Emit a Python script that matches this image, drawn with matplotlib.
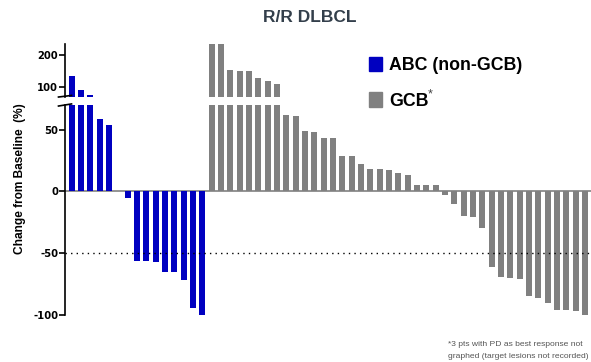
import matplotlib.pyplot as plt
from matplotlib.patches import Patch
import numpy as np

plt.rcParams["axes.unicode_minus"] = False

# values (% change from baseline)
abc_values = [133, 93, 75, 59, 54, 0, -5, -56, -56, -57, -65, -65, -72, -94, -100]
gcb_values = [240, 240, 152, 151, 149, 127, 118, 109, 62, 61, 49, 48, 43, 43,
              29, 29, 22, 18, 18, 17, 15, 13, 5, 5, 5, -3, -10, -20, -21, -30,
              -61, -69, -70, -71, -85, -86, -90, -96, -96, -97, -100, -100]
legend_labels = ["ABC (non-GCB)", "GCB"]
upper_ticks = [100, 200]
lower_ticks = [-100, -50, 0, 50]

blue = "#0000c0"
gray = "#808080"
tick_font = "DejaVu Sans"
txt_font = "Liberation Sans"

x_abc = np.arange(len(abc_values))
x_gcb = np.arange(len(gcb_values)) + len(abc_values)

fig = plt.figure(figsize=(5.91, 3.62), dpi=100)
ax_top = fig.add_axes([0.110, 0.732, 0.92, 0.146])
ax_bot = fig.add_axes([0.110, 0.130, 0.92, 0.580])

for ax in (ax_top, ax_bot):
    ax.bar(x_abc, abc_values, width=0.65, color=blue)
    ax.bar(x_gcb, gcb_values, width=0.65, color=gray)
    ax.set_xlim(-0.72, 57.55)
    for s in ["top", "right", "bottom"]:
        ax.spines[s].set_visible(False)
    ax.spines["left"].set_linewidth(1.2)
    ax.set_xticks([])
    ax.tick_params(axis="y", length=4, width=1.2, pad=1)

ax_top.set_ylim(70, 232)
ax_top.set_yticks(upper_ticks)
ax_bot.set_ylim(-100, 70)
ax_bot.set_yticks(lower_ticks)

for ax in (ax_top, ax_bot):
    for lab in ax.get_yticklabels():
        lab.set_fontfamily(tick_font)
        lab.set_fontweight("bold")
        lab.set_fontsize(7.2)

ax_bot.axhline(0, color=gray, lw=1.2, zorder=0)
ax_bot.axhline(-50, color="black", lw=1, linestyle=(0, (1, 3)), zorder=3)

# break marks on the y axis
ax_top.plot([-0.012, 0.012], [0.0, 0.03], transform=ax_top.transAxes,
            color="black", lw=1.2, clip_on=False)
ax_bot.plot([-0.012, 0.012], [0.995, 1.005], transform=ax_bot.transAxes,
            color="black", lw=1.2, clip_on=False)

fig.text(310 / 591, 1 - 18 / 362, "R/R DLBCL", ha="center", va="center",
         fontsize=12.5, fontweight="bold", color="#333f4b", family=txt_font)
fig.text(20 / 591, 1 - 179 / 362, "Change from Baseline  (%)", rotation=90,
         ha="center", va="center", fontsize=8.6, fontweight="bold", family=txt_font)

handles = [Patch(color=blue), Patch(color=gray)]
fig.legend(handles, legend_labels, loc="upper left",
           bbox_to_anchor=(369 / 591, 1 - 57 / 362), frameon=False,
           prop={"family": txt_font, "weight": "bold", "size": 12.8},
           handlelength=0.75, handleheight=0.85, handletextpad=0.4,
           labelspacing=1.02, borderpad=0, borderaxespad=0)
fig.text(428 / 591, 1 - 94 / 362, "*", fontsize=9, color="#444444",
         ha="left", va="center", family=txt_font)

fig.text(448 / 591, 1 - 345 / 362, "*3 pts with PD as best response not",
         fontsize=6.1, color="#555555", va="center", family=txt_font)
fig.text(448 / 591, 1 - 357 / 362, "graphed (target lesions not recorded)",
         fontsize=6.1, color="#555555", va="center", family=txt_font)

fig.savefig("out.png", dpi=100)
